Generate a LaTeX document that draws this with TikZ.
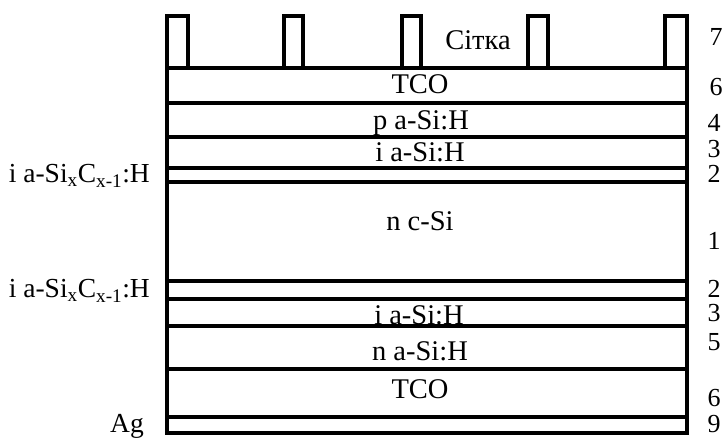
\documentclass[tikz,border=0pt]{standalone}
\usepackage{fontspec}
\setmainfont{Liberation Serif}
\begin{document}
\begin{tikzpicture}[x=1pt,y=-1pt,
  edge/.style={draw,line width=3.4pt,line join=miter},
  lbl/.style={font=\fontsize{28.5}{30}\selectfont,anchor=base,inner sep=0pt},
  lft/.style={font=\fontsize{27.5}{30}\selectfont,anchor=base east,inner sep=0pt},
  num/.style={font=\fontsize{26}{30}\selectfont,anchor=base,inner sep=0pt}]
\useasboundingbox (0,0) rectangle (725,438);
% fingers of the grid
\foreach \a/\b in {167/188,284/303,402/421,528/548,665/687}
  \draw[edge] (\a,68) -- (\a,16) -- (\b,16) -- (\b,68);
% layer stack
\draw[edge] (167,68) rectangle (687,433);
\foreach \y in {103,137,168,182,281,299,326,369,417}
  \draw[edge] (167,\y) -- (687,\y);
% layer texts
\node[lbl] (grid) at (478,50) {Сітка};
\node[lbl] (tco1) at (420,94) {TCO};
\node[lbl] (pa) at (421,130) {p a-Si:H};
\node[lbl] (ia1) at (420,162) {i a-Si:H};
\node[lbl] (nc) at (420,231) {n c-Si};
\node[lbl] (ia2) at (419,324) {i a-Si:H};
\node[lbl] (na) at (420,360) {n a-Si:H};
\node[lbl] (tco2) at (420,398) {TCO};
% left labels
\node[lft] (sic1) at (150,183) {i a-Si\textsubscript{x}C\textsubscript{x-1}:H};
\node[lft] (sic2) at (150,298) {i a-Si\textsubscript{x}C\textsubscript{x-1}:H};
\node[lft] (ag) at (144,432) {Ag};
% right numbers
\node[num] (n7) at (716,46) {7};
\node[num] (n6a) at (716,96) {6};
\node[num] (n4) at (714,132) {4};
\node[num] (n3a) at (714,158) {3};
\node[num] (n2a) at (714,183) {2};
\node[num] (n1) at (714,250) {1};
\node[num] (n2b) at (714,297) {2};
\node[num] (n3b) at (714,321) {3};
\node[num] (n5) at (714,350) {5};
\node[num] (n6b) at (714,406) {6};
\node[num] (n9) at (714,432) {9};
\end{tikzpicture}
\end{document}
